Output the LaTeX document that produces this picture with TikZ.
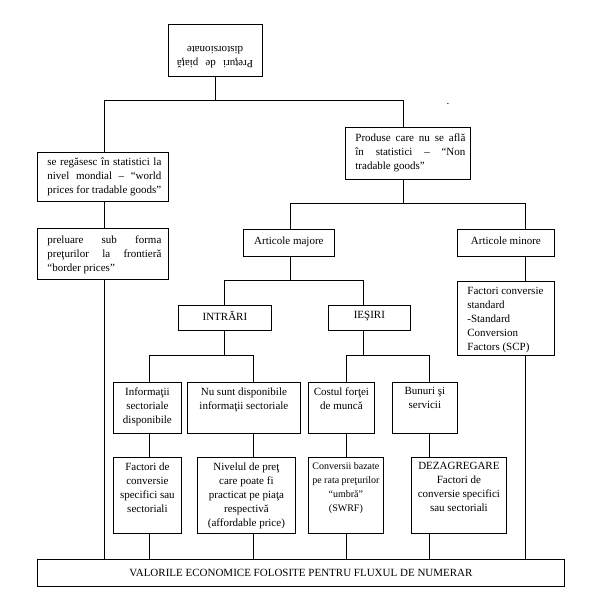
\documentclass[tikz,border=0pt]{standalone}
\usepackage{fontspec}
\setmainfont{Liberation Serif}
\newcommand\tb[6]{\begin{minipage}[t][#2pt][t]{#1pt}\hyphenpenalty=10000\exhyphenpenalty=10000\vspace*{#3pt}\leftskip=#4pt\rightskip=#5pt\relax #6\par\end{minipage}}
\newcommand\cb[4]{\begin{minipage}[t][#2pt][t]{#1pt}\hyphenpenalty=10000\vspace*{#3pt}\centering #4\par\end{minipage}}
\tikzset{
  bx/.style={draw, line width=0.8pt, inner sep=0pt, anchor=north west},
  ln/.style={line width=0.8pt},
}
\begin{document}
\begin{tikzpicture}[x=1pt, y=-1pt, font=\fontsize{11}{14}\selectfont]
\useasboundingbox[fill=white] (0,0) rectangle (598,611);
% boxes
\node[bx, anchor=center, rotate=180] (top) at (215,50) {\cb{94}{52}{8}{\makebox[76pt][s]{Preţuri de piaţă}\\ distorsionate}};
\node[bx] (lb1) at (37,152) {\tb{131}{49}{5.5}{10}{7}{se regăsesc în statistici la\linebreak nivel mondial – “world\linebreak prices for tradable goods”}};
\node[bx] (lb2) at (37,228) {\tb{131}{51}{7}{10}{7}{preluare sub forma\linebreak preţurilor la frontieră\linebreak “border prices”}};
\node[bx] (prod) at (345,127) {\tb{125}{52}{6}{10}{5}{Produse care nu se află\linebreak în statistici – “Non\linebreak tradable goods”}};
\node[bx] (maj) at (243,229) {\cb{91}{27}{7}{Articole majore}};
\node[bx] (min) at (457,229) {\cb{97}{27}{7}{Articole minore}};
\node[bx] (fstd) at (457,281) {\begin{minipage}[t][74pt][t]{97pt}\vspace*{6pt}\raggedright\leftskip=10pt\relax Factori conversie\\ standard\\ -Standard\\ Conversion\\ Factors (SCP)\par\end{minipage}};
\node[bx] (intr) at (178,305) {\cb{93}{25}{6}{INTRĂRI}};
\node[bx] (ies) at (328,305) {\cb{82}{25}{6}{IEŞIRI}};
\node[bx] (info) at (113,382) {\cb{68}{51}{5}{Informaţii\\ sectoriale\\ disponibile}};
\node[bx] (nus) at (187,382) {\cb{113}{51}{5}{Nu sunt disponibile\\ informaţii sectoriale}};
\node[bx] (cost) at (308,382) {\cb{66}{51}{5}{Costul forţei\\ de muncă}};
\node[bx] (bun) at (392,382) {\cb{65}{51}{5}{Bunuri şi\\ servicii}};
\node[bx] (fact) at (113,457) {\cb{68}{76}{5}{Factori de\\ conversie\\ specifici sau\\ sectoriali}};
\node[bx] (niv) at (197,457) {\cb{98}{76}{5}{Nivelul de preţ\\ care poate fi\\ practicat pe piaţa\\ respectivă\\ (affordable price)}};
\node[bx] (conv) at (308,457) {\cb{75}{76}{5}{\fontsize{10}{14}\selectfont Conversii bazate\\ pe rata preţurilor\\ “umbră”\\ (SWRF)}};
\node[bx] (dez) at (411,457) {\cb{95}{76}{5}{DEZAGREGARE\\ Factori de\\ conversie specifici\\ sau sectoriali}};
\node[bx, minimum width=527pt, minimum height=27pt] (bot) at (37,559) {VALORILE ECONOMICE FOLOSITE PENTRU FLUXUL DE NUMERAR};
\node[inner sep=0pt, anchor=base] (dot) at (448,104) {.};
% junctions
\coordinate (j1) at (215,100);
\coordinate (j1l) at (104,100);
\coordinate (j1r) at (403,100);
\coordinate (j2) at (403,203);
\coordinate (j2l) at (290,203);
\coordinate (j2r) at (525,203);
\coordinate (j3) at (290,280);
\coordinate (j3l) at (224,280);
\coordinate (j3r) at (363,280);
\coordinate (j4) at (224,355);
\coordinate (j4l) at (149,355);
\coordinate (j4r) at (253,355);
\coordinate (j5) at (363,355);
\coordinate (j5l) at (346,355);
\coordinate (j5r) at (429,355);
% connectors
\draw[ln] (top.north) -- (j1);
\draw[ln] (j1l) -- (j1r);
\draw[ln] (j1l) -- (j1l |- lb1.north);
\draw[ln] (j1r) -- (j1r |- prod.north);
\draw[ln] (j1l |- lb1.south) -- (j1l |- lb2.north);
\draw[ln] (j1l |- lb2.south) -- (j1l |- bot.north);
\draw[ln] (j1r |- prod.south) -- (j2);
\draw[ln] (j2l) -- (j2r);
\draw[ln] (j2l) -- (j2l |- maj.north);
\draw[ln] (j2r) -- (j2r |- min.north);
\draw[ln] (j2r |- min.south) -- (j2r |- fstd.north);
\draw[ln] (j2r |- fstd.south) -- (j2r |- bot.north);
\draw[ln] (j2l |- maj.south) -- (j3);
\draw[ln] (j3l) -- (j3r);
\draw[ln] (j3l) -- (j3l |- intr.north);
\draw[ln] (j3r) -- (j3r |- ies.north);
\draw[ln] (j3l |- intr.south) -- (j4);
\draw[ln] (j4l) -- (j4r);
\draw[ln] (j4l) -- (j4l |- info.north);
\draw[ln] (j4l |- info.south) -- (j4l |- fact.north);
\draw[ln] (j4l |- fact.south) -- (j4l |- bot.north);
\draw[ln] (j4r) -- (j4r |- nus.north);
\draw[ln] (j4r |- nus.south) -- (j4r |- niv.north);
\draw[ln] (j4r |- niv.south) -- (j4r |- bot.north);
\draw[ln] (j3r |- ies.south) -- (j5);
\draw[ln] (j5l) -- (j5r);
\draw[ln] (j5l) -- (j5l |- cost.north);
\draw[ln] (j5l |- cost.south) -- (j5l |- conv.north);
\draw[ln] (j5l |- conv.south) -- (j5l |- bot.north);
\draw[ln] (j5r) -- (j5r |- bun.north);
\draw[ln] (j5r |- bun.south) -- (j5r |- dez.north);
\draw[ln] (j5r |- dez.south) -- (j5r |- bot.north);
\end{tikzpicture}
\end{document}
